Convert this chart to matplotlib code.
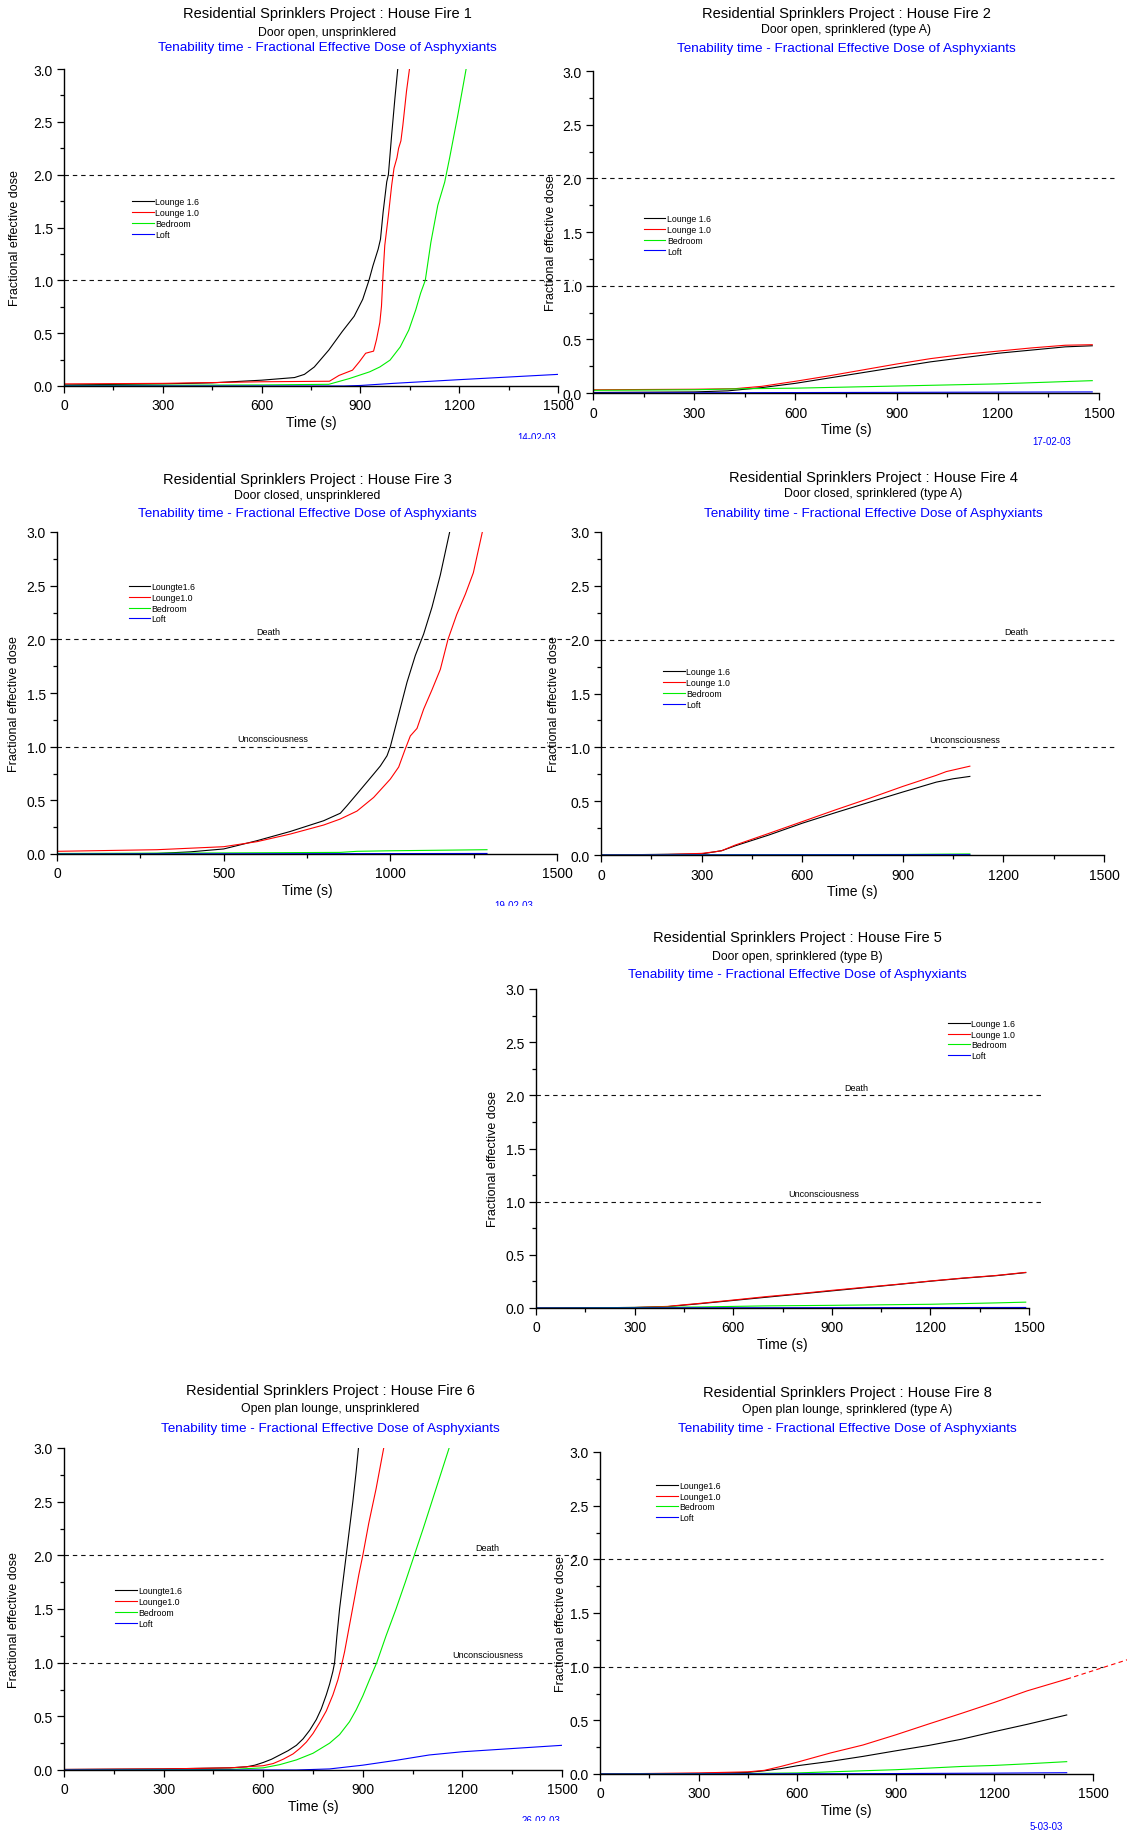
import matplotlib
matplotlib.use("Agg")
import matplotlib.pyplot as plt
from matplotlib.ticker import MultipleLocator, FormatStrFormatter
from matplotlib.transforms import Bbox, TransformedBbox

plt.rcParams["font.family"] = ["Liberation Sans", "DejaVu Sans"]

# ── Data (time in s, fractional effective dose) ──────────────────────────────
# House Fire 1
f1_l16_t = [0, 300, 450, 600, 700, 730, 760, 804, 845, 881, 907, 926, 938, 954, 961, 969, 980, 985, 995, 1005, 1014]
f1_l16 = [0.01, 0.02, 0.03, 0.055, 0.08, 0.11, 0.18, 0.34, 0.516, 0.66, 0.82, 1.0, 1.137, 1.296, 1.39, 1.646, 1.933, 2.0, 2.38, 2.73, 3.02]
f1_l10_t = [0, 300, 600, 806, 835, 876, 897, 916, 928, 940, 949, 959, 964, 969, 974, 985, 995, 1002, 1011, 1016, 1023, 1029, 1040, 1049]
f1_l10 = [0.02, 0.025, 0.04, 0.045, 0.10, 0.15, 0.23, 0.31, 0.32, 0.33, 0.44, 0.60, 0.755, 1.07, 1.33, 1.615, 1.90, 2.06, 2.16, 2.25, 2.32, 2.47, 2.79, 3.0]
f1_bed_t = [0, 600, 804, 866, 928, 959, 990, 1021, 1047, 1068, 1083, 1097, 1114, 1135, 1156, 1171, 1195, 1221]
f1_bed = [0.005, 0.01, 0.016, 0.07, 0.134, 0.18, 0.245, 0.37, 0.53, 0.72, 0.88, 1.0, 1.36, 1.71, 1.93, 2.16, 2.55, 3.0]
f1_loft_t = [0, 850, 900, 1000, 1200, 1500]
f1_loft = [0.0, 0.0, 0.005, 0.025, 0.06, 0.11]

# House Fire 2
f2_l16_t = [0, 300, 400, 450, 500, 600, 700, 800, 900, 1000, 1100, 1200, 1300, 1400, 1480]
f2_l16 = [0.005, 0.01, 0.02, 0.035, 0.05, 0.09, 0.14, 0.19, 0.24, 0.29, 0.33, 0.37, 0.40, 0.43, 0.44]
f2_l10_t = [0, 300, 420, 500, 600, 700, 800, 900, 1000, 1100, 1200, 1300, 1400, 1480]
f2_l10 = [0.03, 0.035, 0.04, 0.062, 0.109, 0.16, 0.215, 0.27, 0.32, 0.36, 0.39, 0.42, 0.445, 0.45]
f2_bed_t = [0, 300, 450, 600, 900, 1200, 1480]
f2_bed = [0.025, 0.03, 0.04, 0.045, 0.065, 0.085, 0.115]
f2_loft_t = [0, 1480]
f2_loft = [0.0, 0.01]

# House Fire 3
f3_l16_t = [0, 300, 400, 500, 600, 700, 800, 850, 870, 900, 950, 970, 990, 1000, 1025, 1050, 1075, 1100, 1125, 1150, 1178]
f3_l16 = [0.0, 0.005, 0.02, 0.047, 0.124, 0.21, 0.31, 0.38, 0.45, 0.56, 0.745, 0.82, 0.915, 1.0, 1.3, 1.6, 1.85, 2.05, 2.3, 2.6, 3.0]
f3_l10_t = [0, 300, 500, 600, 700, 800, 850, 900, 950, 1000, 1025, 1045, 1060, 1080, 1100, 1125, 1150, 1173, 1199, 1225, 1249, 1276]
f3_l10 = [0.025, 0.04, 0.068, 0.115, 0.186, 0.27, 0.326, 0.40, 0.527, 0.698, 0.81, 0.98, 1.10, 1.17, 1.35, 1.53, 1.72, 2.0, 2.23, 2.42, 2.62, 3.0]
f3_bed_t = [0, 500, 850, 900, 1000, 1290]
f3_bed = [0.005, 0.01, 0.015, 0.025, 0.03, 0.04]
f3_loft_t = [0, 1290]
f3_loft = [0.0, 0.005]

# House Fire 4
f4_l16_t = [0, 300, 360, 400, 500, 600, 700, 800, 900, 1000, 1050, 1100]
f4_l16 = [0.0, 0.01, 0.04, 0.085, 0.185, 0.295, 0.394, 0.49, 0.585, 0.677, 0.708, 0.73]
f4_l10_t = [0, 200, 300, 340, 360, 400, 500, 600, 700, 800, 900, 1000, 1030, 1100]
f4_l10 = [0.0, 0.005, 0.015, 0.03, 0.04, 0.092, 0.20, 0.31, 0.42, 0.526, 0.637, 0.74, 0.775, 0.825]
f4_bed_t = [0, 900, 1100]
f4_bed = [0.0, 0.005, 0.01]
f4_loft_t = [0, 1100]
f4_loft = [0.0, 0.003]

# House Fire 5
f5_l16_t = [0, 300, 400, 450, 500, 600, 700, 800, 900, 1000, 1100, 1200, 1300, 1400, 1490]
f5_l16 = [0.0, 0.005, 0.013, 0.027, 0.041, 0.071, 0.101, 0.131, 0.161, 0.191, 0.221, 0.252, 0.28, 0.304, 0.333]
f5_l10_t = [0, 300, 400, 450, 500, 600, 700, 800, 900, 1000, 1100, 1200, 1300, 1400, 1490]
f5_l10 = [0.0, 0.005, 0.015, 0.03, 0.044, 0.075, 0.107, 0.135, 0.166, 0.195, 0.223, 0.254, 0.282, 0.306, 0.335]
f5_bed_t = [0, 300, 500, 700, 900, 1200, 1400, 1490]
f5_bed = [0.0, 0.005, 0.01, 0.02, 0.025, 0.035, 0.048, 0.055]
f5_loft_t = [0, 1490]
f5_loft = [0.0, 0.005]

# House Fire 6
f6_l16_t = [0, 300, 500, 550, 575, 600, 625, 650, 675, 700, 720, 740, 760, 775, 790, 800, 810, 815, 822, 830, 840, 850, 860, 870, 880, 887]
f6_l16 = [0.005, 0.01, 0.02, 0.03, 0.045, 0.07, 0.10, 0.14, 0.18, 0.23, 0.29, 0.37, 0.47, 0.57, 0.70, 0.80, 0.92, 1.0, 1.25, 1.5, 1.75, 2.0, 2.25, 2.5, 2.78, 3.0]
f6_l10_t = [0, 300, 500, 600, 630, 660, 690, 710, 730, 750, 770, 790, 810, 825, 834, 845, 860, 875, 888, 900, 918, 940, 963]
f6_l10 = [0.005, 0.01, 0.02, 0.04, 0.06, 0.10, 0.15, 0.20, 0.26, 0.34, 0.44, 0.55, 0.70, 0.84, 0.95, 1.1, 1.35, 1.6, 1.82, 2.0, 2.3, 2.62, 3.0]
f6_bed_t = [0, 500, 600, 650, 700, 750, 800, 830, 860, 880, 900, 920, 942, 970, 1000, 1028, 1055, 1082, 1108, 1134, 1160]
f6_bed = [0.0, 0.005, 0.02, 0.05, 0.094, 0.156, 0.25, 0.33, 0.45, 0.56, 0.69, 0.84, 1.0, 1.25, 1.5, 1.75, 2.0, 2.25, 2.5, 2.75, 3.0]
f6_loft_t = [0, 700, 800, 900, 1000, 1100, 1150, 1200, 1300, 1400, 1500]
f6_loft = [0.0, 0.0, 0.01, 0.045, 0.09, 0.14, 0.155, 0.17, 0.19, 0.21, 0.23]

# House Fire 8
f8_l16_t = [0, 300, 450, 500, 550, 600, 700, 800, 900, 1000, 1100, 1200, 1300, 1420]
f8_l16 = [0.0, 0.005, 0.015, 0.03, 0.05, 0.077, 0.117, 0.164, 0.216, 0.266, 0.324, 0.395, 0.463, 0.55]
f8_l10_t = [0, 300, 450, 500, 550, 600, 700, 800, 900, 1000, 1100, 1200, 1300, 1420]
f8_l10 = [0.0, 0.01, 0.02, 0.034, 0.07, 0.11, 0.195, 0.27, 0.365, 0.466, 0.565, 0.667, 0.775, 0.884]
f8_l10_ext_t = [1420, 1605]
f8_l10_ext = [0.884, 1.065]
f8_bed_t = [0, 450, 600, 700, 800, 900, 1000, 1100, 1200, 1300, 1420]
f8_bed = [0.0, 0.005, 0.01, 0.02, 0.03, 0.04, 0.055, 0.07, 0.08, 0.095, 0.115]
f8_loft_t = [0, 800, 1200, 1420]
f8_loft = [0.0, 0.003, 0.008, 0.012]

COLORS = ["black", "#ff0000", "#00ee00", "#0000ff"]
LABELS_A = ["Lounge 1.6", "Lounge 1.0", "Bedroom", "Loft"]
LABELS_B = ["Loungte1.6", "Lounge1.0", "Bedroom", "Loft"]
LABELS_C = ["Lounge1.6", "Lounge1.0", "Bedroom", "Loft"]

TITLE = "Residential Sprinklers Project : House Fire {}"
BLUE_TITLE = "Tenability time - Fractional Effective Dose of Asphyxiants"

W, H = 1127, 1831

# layout in pixels: axes box (left, top, right, bottom), title centre x and
# the y of the three title lines, y-label gap, legend anchor (axes fraction)
PANELS = [
    dict(num=1, sub="Door open, unsprinklered", box=(64, 70, 558, 387), tx=327, ty=(14, 33, 48), ylab=43,
         series=[(f1_l16_t, f1_l16), (f1_l10_t, f1_l10), (f1_bed_t, f1_bed), (f1_loft_t, f1_loft)],
         labels=LABELS_A, leg=(0.138, 0.595), xstep=300, marks=None, dash_end=1545,
         date="14-02-03", date_xy=(537, 433), date_clip=440),
    dict(num=2, sub="Door open, sprinklered (type A)", box=(593, 72, 1099, 394), tx=846, ty=(14, 30, 49), ylab=36,
         series=[(f2_l16_t, f2_l16), (f2_l10_t, f2_l10), (f2_bed_t, f2_bed), (f2_loft_t, f2_loft)],
         labels=LABELS_A, leg=(0.1, 0.555), xstep=300, marks=None, dash_end=1545,
         date="17-02-03", date_xy=(1052, 437), date_clip=None),
    dict(num=3, sub="Door closed, unsprinklered", box=(57, 533, 557, 855), tx=307, ty=(480, 496, 514), ylab=37,
         series=[(f3_l16_t, f3_l16), (f3_l10_t, f3_l10), (f3_bed_t, f3_bed), (f3_loft_t, f3_loft)],
         labels=LABELS_B, leg=(0.143, 0.844), xstep=500, marks=(635, 646), dash_end=1545,
         date="19-02-03", date_xy=(514, 901), date_clip=907),
    dict(num=4, sub="Door closed, sprinklered (type A)", box=(601, 533, 1104, 856), tx=873, ty=(478, 494, 514), ylab=41,
         series=[(f4_l16_t, f4_l16), (f4_l10_t, f4_l10), (f4_bed_t, f4_bed), (f4_loft_t, f4_loft)],
         labels=LABELS_A, leg=(0.123, 0.581), xstep=300, marks=(1238, 1084), dash_end=1535,
         date=None),
    dict(num=5, sub="Door open, sprinklered (type B)", box=(536, 990, 1029, 1309), tx=797, ty=(938, 957, 975), ylab=37,
         series=[(f5_l16_t, f5_l16), (f5_l10_t, f5_l10), (f5_bed_t, f5_bed), (f5_loft_t, f5_loft)],
         labels=LABELS_A, leg=(0.836, 0.906), xstep=300, marks=(975, 875), dash_end=1540,
         date=None),
    dict(num=6, sub="Open plan lounge, unsprinklered", box=(64, 1449, 562, 1771), tx=330, ty=(1391, 1409, 1429), ylab=44,
         series=[(f6_l16_t, f6_l16), (f6_l10_t, f6_l10), (f6_bed_t, f6_bed), (f6_loft_t, f6_loft)],
         labels=LABELS_B, leg=(0.103, 0.57), xstep=300, marks=(1276, 1277), dash_end=1545,
         date="26-02-03", date_xy=(541, 1816), date_clip=1822),
    dict(num=8, sub="Open plan lounge, sprinklered (type A)", box=(600, 1453, 1093, 1775), tx=847, ty=(1393, 1410, 1429), ylab=33,
         series=[(f8_l16_t, f8_l16), (f8_l10_t, f8_l10), (f8_bed_t, f8_bed), (f8_loft_t, f8_loft)],
         labels=LABELS_C, leg=(0.113, 0.91), xstep=300, marks=None, dash_end=1530,
         date="5-03-03", date_xy=(1046, 1822), date_clip=None),
]


def fx(px):
    return px / W


def fy(py):
    return 1 - py / H


def draw_panel(fig, p):
    left, top, right, bottom = p["box"]
    ax = fig.add_axes([fx(left), fy(bottom), fx(right - left), (bottom - top) / H])
    ax.patch.set_alpha(0)

    for (t, v), color, label in zip(p["series"], COLORS, p["labels"]):
        ax.plot(t, v, color=color, lw=0.8, label=label)
    if p["num"] == 8:
        # extrapolated part of Lounge 1.0, drawn dashed past the axis
        ax.plot(f8_l10_ext_t, f8_l10_ext, color=COLORS[1], lw=0.8,
                ls=(0, (4, 3)), clip_on=False)

    for lvl in (1.0, 2.0):
        ax.plot([0, p["dash_end"]], [lvl, lvl], color="#111111", lw=0.8,
                ls=(0, (4, 3.5)), clip_on=False, zorder=1)

    if p["marks"]:
        ax.text(p["marks"][0], 2.03, "Death", ha="center", va="bottom", fontsize=6.5)
        ax.text(p["marks"][1], 1.03, "Unconsciousness", ha="center", va="bottom", fontsize=6.5)

    ax.set_xlim(0, 1500)
    ax.set_ylim(0, 3)
    ax.xaxis.set_major_locator(MultipleLocator(p["xstep"]))
    ax.xaxis.set_minor_locator(MultipleLocator(p["xstep"] / 2))
    ax.yaxis.set_major_locator(MultipleLocator(0.5))
    ax.yaxis.set_minor_locator(MultipleLocator(0.25))
    ax.yaxis.set_major_formatter(FormatStrFormatter("%.1f"))
    ax.tick_params(which="major", direction="out", length=5, width=0.9, labelsize=10)
    ax.tick_params(which="minor", direction="out", length=2.8, width=0.9)
    ax.tick_params(axis="x", which="major", pad=4)
    ax.tick_params(axis="y", which="major", pad=3)
    for s in ("top", "right"):
        ax.spines[s].set_visible(False)
    for s in ("left", "bottom"):
        ax.spines[s].set_linewidth(1.0)

    ax.set_xlabel("Time (s)", fontsize=10)
    ax.set_ylabel("Fractional effective dose", fontsize=9)
    wpx, hpx = right - left, bottom - top
    ax.xaxis.set_label_coords(0.5, -29 / hpx)
    ax.yaxis.set_label_coords(-p["ylab"] / wpx, 0.5 - 10 / hpx)

    ax.legend(loc="upper left", bbox_to_anchor=p["leg"], frameon=False, fontsize=6.3,
              handlelength=2.5, handletextpad=0.15, labelspacing=0.2,
              borderpad=0, borderaxespad=0)

    t1, t2, t3 = p["ty"]
    fig.text(fx(p["tx"]), fy(t1), TITLE.format(p["num"]), ha="center", va="center", fontsize=10.5)
    fig.text(fx(p["tx"]), fy(t2), p["sub"], ha="center", va="center", fontsize=8.8)
    fig.text(fx(p["tx"]), fy(t3), BLUE_TITLE, ha="center", va="center", fontsize=9.7, color="#0000ff")

    if p.get("date"):
        dx, dy = p["date_xy"]
        txt = fig.text(fx(dx), fy(dy), p["date"], ha="center", va="top", fontsize=7, color="#0000ff")
        if p["date_clip"]:
            # the reference shows these stamps cut off half-way
            clip = TransformedBbox(Bbox.from_extents(0, fy(p["date_clip"]), 1, 1), fig.transFigure)
            txt.set_clip_box(clip)
            txt.set_clip_on(True)
    return ax


fig = plt.figure(figsize=(W / 100, H / 100), dpi=100, facecolor="white")
for panel in PANELS:
    draw_panel(fig, panel)

fig.savefig("out.png", dpi=100, facecolor="white")
